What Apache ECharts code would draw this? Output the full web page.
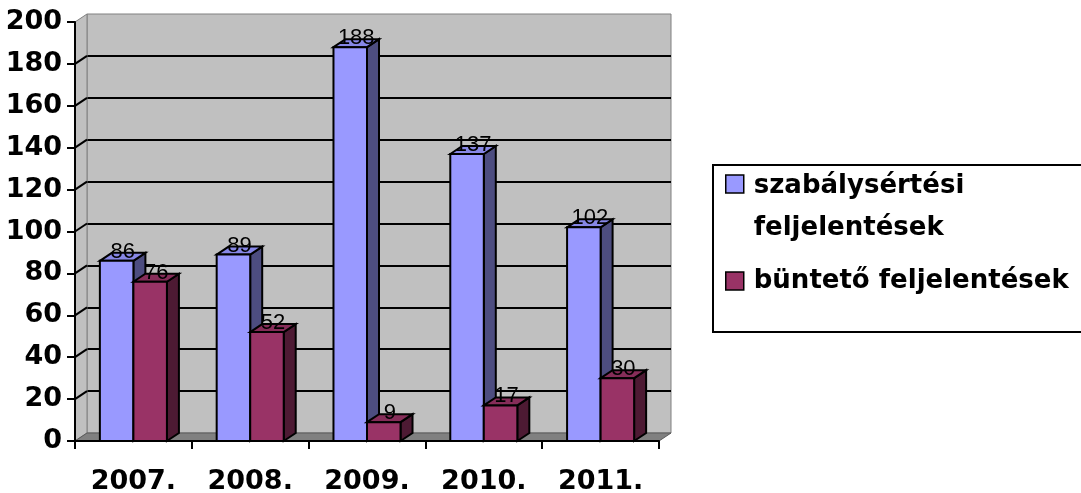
<!DOCTYPE html>
<html>
<head>
<meta charset="utf-8">
<script src="https://cdn.jsdelivr.net/npm/echarts@6/dist/echarts.min.js"></script>
<style>
html,body{margin:0;padding:0;background:#fff;}
#c{width:1081px;height:493px;}
</style>
</head>
<body>
<div id="c"></div>
<script>
// ---- data ----
const categories = ['2007.', '2008.', '2009.', '2010.', '2011.'];
const seriesNames = ['szabálysértési\nfeljelentések', 'büntető feljelentések'];
const szabalysertesi = [86, 89, 188, 137, 102];
const bunteto = [76, 52, 9, 17, 30];
const yTicks = [0, 20, 40, 60, 80, 100, 120, 140, 160, 180, 200];

// ---- layout / style constants ----
const DX = 12, DY = -8;           // 3D depth offset
const BAR_FRAC = 0.287;           // bar width as fraction of category band
const LW = 2;
const GRID = {left: 75, right: 422, top: 22, bottom: 52};
const BAR_COLORS = [
  {front: '#9999ff', top: '#8787e6', side: '#4d4d80'},
  {front: '#993366', top: '#862d59', side: '#4d1a33'}
];
const BOLD_FONT = {fontFamily: '"DejaVu Sans", sans-serif', fontWeight: 'bold', fontSize: 27, color: '#000'};

function renderWalls(params, api) {
  const cs = params.coordSys;
  const xl = cs.x, xr = cs.x + cs.width;
  const yb = api.coord([0, yTicks[0]])[1];
  const yt = api.coord([0, yTicks[yTicks.length - 1]])[1];
  const children = [
    {type: 'polygon', shape: {points: [[xl, yt], [xl + DX, yt + DY], [xl + DX, yb + DY], [xl, yb]]},
     style: {fill: '#c0c0c0', stroke: '#808080', lineWidth: 1}},
    {type: 'polygon', shape: {points: [[xl, yb], [xl + DX, yb + DY], [xr + DX, yb + DY], [xr, yb]]},
     style: {fill: '#808080', stroke: '#5a5a5a', lineWidth: 1}}
  ];
  for (let k = 1; k < yTicks.length - 1; k++) {
    const y = api.coord([0, yTicks[k]])[1];
    children.push({type: 'line', shape: {x1: xl, y1: y, x2: xl + DX, y2: y + DY},
      style: {stroke: '#000', lineWidth: 2}});
  }
  return {type: 'group', children: children};
}

function makeBar(k) {
  return function (params, api) {
    const i = api.value(0), v = api.value(1);
    const top = api.coord([i, v]);
    const base = api.coord([i, 0]);
    const band = api.size([1, 0])[0];
    const bw = band * BAR_FRAC;
    const x0 = k === 0 ? top[0] - bw : top[0];
    const x1 = x0 + bw, yt = top[1], yb = base[1];
    const c = BAR_COLORS[k];
    return {type: 'group', children: [
      {type: 'polygon', shape: {points: [[x1, yt], [x1 + DX, yt + DY], [x1 + DX, yb + DY], [x1, yb]]},
       style: {fill: c.side, stroke: '#000', lineWidth: LW}},
      {type: 'polygon', shape: {points: [[x0, yt], [x0 + DX, yt + DY], [x1 + DX, yt + DY], [x1, yt]]},
       style: {fill: c.top, stroke: '#000', lineWidth: LW}},
      {type: 'rect', shape: {x: x0, y: yt, width: bw, height: yb - yt},
       style: {fill: c.front, stroke: '#000', lineWidth: LW}},
      {type: 'text', style: {text: String(v), x: x0 + (bw + DX) / 2, y: yt - 9,
        align: 'center', verticalAlign: 'middle',
        fontSize: 22, fontFamily: '"Liberation Sans", Arial, sans-serif', fontWeight: 'normal', fill: '#000'}}
    ]};
  };
}

const chart = echarts.init(document.getElementById('c'), null, {renderer: 'canvas'});
const yMin = yTicks[0], yMax = yTicks[yTicks.length - 1], yInt = yTicks[1] - yTicks[0];

chart.setOption({
  animation: false,
  backgroundColor: '#fff',
  grid: [
    {left: GRID.left, right: GRID.right, top: GRID.top, bottom: GRID.bottom, outerBoundsMode: 'none'},
    {left: GRID.left + DX, right: GRID.right - DX, top: GRID.top + DY, bottom: GRID.bottom - DY,
     show: true, backgroundColor: '#c0c0c0', borderColor: '#808080', borderWidth: 1, outerBoundsMode: 'none'}
  ],
  xAxis: [
    {gridIndex: 0, type: 'category', data: categories, boundaryGap: true, z: 5,
     axisLine: {show: true, lineStyle: {color: '#000', width: 2}},
     axisTick: {show: true, length: 8, alignWithLabel: false, interval: 0, lineStyle: {color: '#000', width: 2}},
     axisLabel: Object.assign({margin: 27, interval: 0}, BOLD_FONT),
     splitLine: {show: false}},
    {gridIndex: 1, type: 'category', data: categories, show: false}
  ],
  yAxis: [
    {gridIndex: 0, type: 'value', min: yMin, max: yMax, interval: yInt, z: 5,
     axisLine: {show: true, lineStyle: {color: '#000', width: 2}},
     axisTick: {show: true, length: 8, lineStyle: {color: '#000', width: 2}},
     axisLabel: Object.assign({margin: 13}, BOLD_FONT),
     splitLine: {show: false}},
    {gridIndex: 1, type: 'value', min: yMin, max: yMax, interval: yInt,
     axisLine: {show: false}, axisTick: {show: false}, axisLabel: {show: false},
     splitLine: {show: true, showMinLine: false, showMaxLine: false, lineStyle: {color: '#000', width: 2}}}
  ],
  legend: [
    {data: [{name: seriesNames[0], icon: 'path://M0,0h18v18h-18Z M23,64',
             itemStyle: {color: BAR_COLORS[0].front, borderColor: '#000', borderWidth: 1.5}}],
     orient: 'vertical', left: 725, top: 165, padding: 0, itemWidth: 23, itemHeight: 64,
     selectedMode: false,
     textStyle: Object.assign({lineHeight: 42}, BOLD_FONT, {fontSize: 26})},
    {data: [{name: seriesNames[1], icon: 'path://M0,0h18v18h-18Z M23,0',
             itemStyle: {color: BAR_COLORS[1].front, borderColor: '#000', borderWidth: 1.5}}],
     orient: 'vertical', left: 725, top: 268, padding: 0, itemWidth: 23, itemHeight: 18,
     selectedMode: false,
     textStyle: Object.assign({lineHeight: 18}, BOLD_FONT, {fontSize: 26})}
  ],
  graphic: [
    {type: 'rect', shape: {x: 713, y: 165, width: 420, height: 167},
     style: {fill: 'none', stroke: '#000', lineWidth: 2}, silent: true}
  ],
  series: [
    {type: 'custom', name: 'walls', xAxisIndex: 0, yAxisIndex: 0, z: 1, silent: true,
     data: [[0, 0]], encode: {x: 0, y: 1}, renderItem: renderWalls},
    {type: 'custom', name: seriesNames[0], xAxisIndex: 0, yAxisIndex: 0, z: 2,
     itemStyle: {color: BAR_COLORS[0].front},
     data: szabalysertesi.map((v, i) => [i, v]), encode: {x: 0, y: 1}, renderItem: makeBar(0)},
    {type: 'custom', name: seriesNames[1], xAxisIndex: 0, yAxisIndex: 0, z: 3,
     itemStyle: {color: BAR_COLORS[1].front},
     data: bunteto.map((v, i) => [i, v]), encode: {x: 0, y: 1}, renderItem: makeBar(1)}
  ]
});
</script>
</body>
</html>
